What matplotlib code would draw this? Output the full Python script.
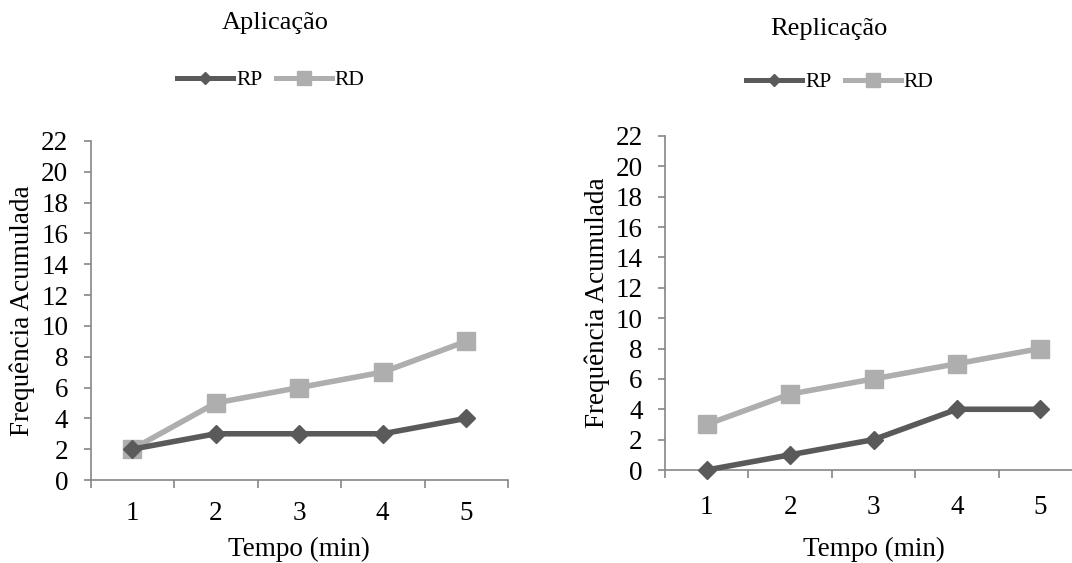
import matplotlib.pyplot as plt
from matplotlib.lines import Line2D

plt.rcParams['font.family'] = ['Liberation Serif', 'DejaVu Serif']

# cumulative frequency per minute
tempo = [1, 2, 3, 4, 5]
aplic_rp = [2, 3, 3, 3, 4]
aplic_rd = [2, 5, 6, 7, 9]
repl_rp = [0, 1, 2, 4, 4]
repl_rd = [3, 5, 6, 7, 8]
yticks = list(range(0, 23, 2))

W, H = 1072, 563
dark = '#5a5a5a'
light = '#aeaeae'
axis_col = '#868686'

fig = plt.figure(figsize=(W / 100, H / 100), dpi=100)


def px_axes(x0, x1, y_top, y_bot):
    return fig.add_axes([x0 / W, 1 - y_bot / H, (x1 - x0) / W, (y_bot - y_top) / H])


def draw_panel(ax, rp, rd, title, tx, ty, lx, ly, xpad, lpad):
    ax.plot(tempo, rp, color=dark, lw=4, marker='D', ms=9.5, clip_on=False, zorder=3)
    ax.plot(tempo, rd, color=light, lw=4, marker='s', ms=13.5, clip_on=False, zorder=2)
    ax.set_xlim(0.5, 5.5)
    ax.set_ylim(0, 22)
    ax.set_yticks(yticks)
    ax.set_xticks(tempo)
    ax.set_xticks([0.5, 1.5, 2.5, 3.5, 4.5, 5.5], minor=True)
    ax.tick_params(axis='x', which='major', length=0, pad=xpad, labelsize=19.5)
    ax.tick_params(axis='x', which='minor', length=6, width=1.2, color=axis_col, direction='out')
    ax.tick_params(axis='y', length=5, width=1.2, color=axis_col, pad=11, labelsize=19.5)
    for s in ['top', 'right']:
        ax.spines[s].set_visible(False)
    for s in ['left', 'bottom']:
        ax.spines[s].set_color(axis_col)
        ax.spines[s].set_linewidth(1.2)
    ax.set_xlabel('Tempo (min)', fontsize=19.5, labelpad=lpad)
    ax.set_ylabel('Frequência Acumulada', fontsize=19.5, labelpad=4)
    fig.text(tx / W, 1 - ty / H, title, ha='center', va='center', fontsize=19)
    handles = [
        Line2D([], [], color=dark, lw=3.6, marker='D', ms=6.5),
        Line2D([], [], color=light, lw=3.6, marker='s', ms=9.5),
    ]
    fig.legend(handles, ['RP', 'RD'], loc='center', bbox_to_anchor=(lx / W, 1 - ly / H),
               ncol=2, frameon=False, fontsize=15.5, handlelength=2.6,
               handletextpad=0.15, columnspacing=0.6, borderaxespad=0)


ax1 = px_axes(90.5, 508, 141, 480)
draw_panel(ax1, aplic_rp, aplic_rd, 'Aplicação', 275, 23, 271, 80, 15, 8)

ax2 = px_axes(665, 1082, 136, 470)
draw_panel(ax2, repl_rp, repl_rd, 'Replicação', 829, 29, 840, 82, 18, 12)

fig.savefig('out.png', dpi=100)
